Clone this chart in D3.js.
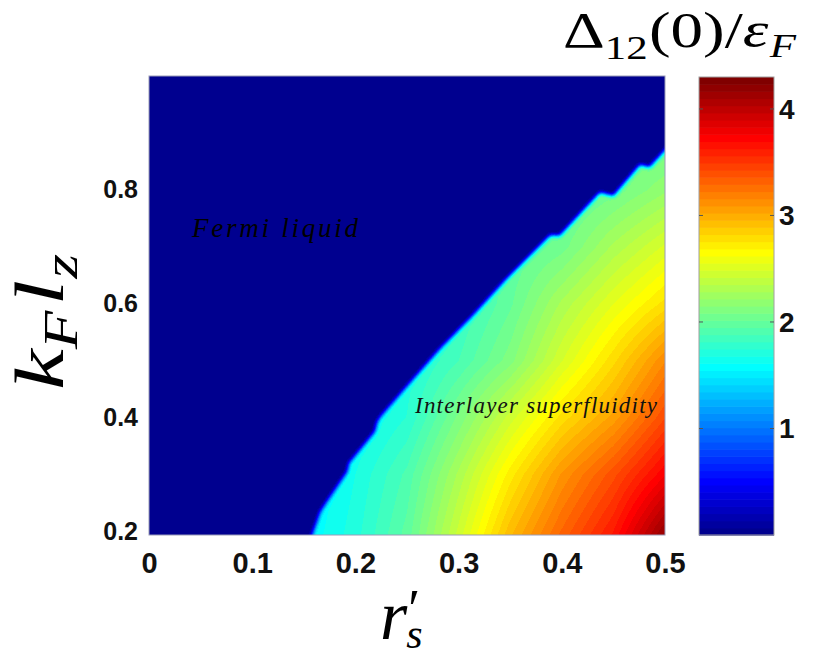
<!DOCTYPE html>
<html><head><meta charset="utf-8">
<script src="https://cdn.jsdelivr.net/npm/d3@7"></script>
<style>body{margin:0;background:#fff} svg{display:block}</style>
</head><body><svg id="chart" width="816" height="660"></svg>
<script>
// ---------------- data ----------------
const xTicks = [0, 0.1, 0.2, 0.3, 0.4, 0.5];
const xTickLabels = ["0", "0.1", "0.2", "0.3", "0.4", "0.5"];
const yTicks = [0.2, 0.4, 0.6, 0.8];
const yTickLabels = ["0.2", "0.4", "0.6", "0.8"];
const cTicks = [1, 2, 3, 4];
const cTickLabels = ["1", "2", "3", "4"];
const xDomain = [0, 0.5];
const yDomain = [0.193, 1.0];
const cDomain = [0, 4.3];

// grid of Δ12(0)/εF (superfluid side)
const gridX = [0.15, 0.2, 0.25, 0.3, 0.35, 0.4, 0.45, 0.5];
const gridY = [0.19, 0.3, 0.4, 0.5, 0.6, 0.7, 0.8, 0.9, 1.0];
const gapRow019 = [1.55, 1.72, 1.98, 2.45, 2.95, 3.32, 3.65, 4.20];
const gapRow030 = [1.50, 1.68, 1.90, 2.30, 2.72, 3.10, 3.40, 3.75];
const gapRow040 = [1.50, 1.60, 1.75, 2.10, 2.45, 2.78, 3.05, 3.42];
const gapRow050 = [1.50, 1.60, 1.70, 1.88, 2.12, 2.48, 2.80, 3.15];
const gapRow060 = [1.50, 1.60, 1.70, 1.80, 2.00, 2.30, 2.55, 2.78];
const gapRow070 = [1.50, 1.60, 1.70, 1.80, 1.95, 2.05, 2.30, 2.50];
const gapRow080 = [1.50, 1.60, 1.70, 1.80, 1.90, 1.95, 2.05, 2.20];
const gapRow090 = [1.50, 1.60, 1.70, 1.80, 1.90, 1.95, 2.00, 2.00];
const gapRow100 = [1.50, 1.60, 1.70, 1.80, 1.90, 1.95, 2.00, 2.00];
const gapValues = [gapRow019, gapRow030, gapRow040, gapRow050, gapRow060, gapRow070, gapRow080, gapRow090, gapRow100];

// phase boundary (Fermi liquid | interlayer superfluid)
const boundaryX = [0.158, 0.166, 0.171, 0.192, 0.194, 0.197, 0.219, 0.221, 0.224, 0.256, 0.282, 0.314, 0.347, 0.389, 0.398, 0.437, 0.450, 0.476, 0.485, 0.500];
const boundaryY = [0.193, 0.234, 0.248, 0.304, 0.320, 0.326, 0.375, 0.391, 0.400, 0.467, 0.520, 0.579, 0.644, 0.720, 0.719, 0.795, 0.789, 0.844, 0.839, 0.869];

// ---------------- layout ----------------
const P = {left: 149, top: 76, right: 665, bottom: 535};
const CB = {left: 699, right: 774, top: 77, bottom: 535};
const svg = d3.select("#chart");
const x = d3.scaleLinear().domain(xDomain).range([P.left, P.right]);
const y = d3.scaleLinear().domain(yDomain).range([P.bottom, P.top]);
const cY = d3.scaleLinear().domain(cDomain).range([CB.bottom, CB.top]);

// MATLAB jet(64)
function jet(m) {
  const n = Math.ceil(m / 4), u = [];
  for (let k = 1; k <= n; k++) u.push(k / n);
  for (let k = 0; k < n - 1; k++) u.push(1);
  for (let k = n; k >= 1; k--) u.push(k / n);
  const g0 = Math.ceil(n / 2) - (m % 4 === 1 ? 1 : 0);
  const f = j => (j >= 1 && j <= u.length) ? u[j - 1] : 0;
  const out = [];
  for (let i = 1; i <= m; i++) out.push(d3.rgb(255 * f(i - g0 - n), 255 * f(i - g0), 255 * f(i - g0 + n)).formatHex());
  return out;
}
const jetColors = jet(64);
const color = d3.scaleQuantize().domain(cDomain).range(jetColors);

// ---------------- heat map ----------------
function gapAt(xv, yv) {
  let i = d3.bisectRight(gridX, xv) - 1; i = Math.max(0, Math.min(gridX.length - 2, i));
  let j = d3.bisectRight(gridY, yv) - 1; j = Math.max(0, Math.min(gridY.length - 2, j));
  let tx = (xv - gridX[i]) / (gridX[i + 1] - gridX[i]); tx = Math.max(0, Math.min(1, tx));
  let ty = (yv - gridY[j]) / (gridY[j + 1] - gridY[j]); ty = Math.max(0, Math.min(1, ty));
  const a = gapValues[j][i], b = gapValues[j][i + 1], c = gapValues[j + 1][i], d = gapValues[j + 1][i + 1];
  return (a * (1 - tx) + b * tx) * (1 - ty) + (c * (1 - tx) + d * tx) * ty;
}
const W = P.right - P.left, H = P.bottom - P.top, pad = 30;
const mc = document.createElement("canvas");
mc.width = W + 2 * pad; mc.height = H + 2 * pad;
const mctx = mc.getContext("2d");
mctx.translate(pad - P.left, pad - P.top);
mctx.filter = "blur(2px)";
const bpts = boundaryX.map((bx, k) => [x(bx), y(boundaryY[k])]);
const last = bpts[bpts.length - 1], first = bpts[0];
const poly = [[first[0] - 0.35 * pad, P.bottom + pad]].concat(bpts, [
  [last[0] + pad, last[1] - pad], [P.right + pad, P.top - pad],
  [P.left - pad, P.top - pad], [P.left - pad, P.bottom + pad]]);
mctx.beginPath();
d3.line().context(mctx)(poly);
mctx.closePath();
mctx.fillStyle = "#fff";
mctx.fill();
const mdata = mctx.getImageData(pad, pad, W, H).data;

const hc = document.createElement("canvas");
hc.width = W; hc.height = H;
const hctx = hc.getContext("2d");
const img = hctx.createImageData(W, H);
for (let j = 0; j < H; j++) {
  const yv = y.invert(P.top + j + 0.5);
  for (let i = 0; i < W; i++) {
    const xv = x.invert(P.left + i + 0.5);
    const k = (j * W + i) * 4;
    const frac = 1 - mdata[k + 3] / 255;
    const v = frac * gapAt(xv, yv);
    const c = d3.rgb(color(v));
    img.data[k] = c.r; img.data[k + 1] = c.g; img.data[k + 2] = c.b; img.data[k + 3] = 255;
  }
}
hctx.putImageData(img, 0, 0);
svg.append("image").attr("x", P.left).attr("y", P.top).attr("width", W).attr("height", H)
  .attr("preserveAspectRatio", "none").attr("href", hc.toDataURL());
svg.append("rect").attr("x", P.left).attr("y", P.top).attr("width", W).attr("height", H)
  .attr("fill", "none").attr("stroke", "#9a9cb8").attr("stroke-width", 1);

// ---------------- axes ----------------
const tickFont = "'Liberation Sans', Arial, Helvetica, sans-serif";
const xAxis = svg.append("g").attr("transform", `translate(0,${P.bottom})`)
  .call(d3.axisBottom(x).tickValues(xTicks).tickFormat((d, i) => xTickLabels[i]).tickSize(0).tickPadding(17));
xAxis.select(".domain").remove();
xAxis.selectAll("text").attr("font-family", tickFont).attr("font-weight", "bold").attr("font-size", 29).attr("fill", "#111");

const yAxis = svg.append("g").attr("transform", `translate(${P.left},0)`)
  .call(d3.axisLeft(y).tickValues(yTicks).tickFormat((d, i) => yTickLabels[i]).tickSize(0).tickPadding(11));
yAxis.select(".domain").remove();
yAxis.selectAll("text").attr("font-family", tickFont).attr("font-weight", "bold").attr("font-size", 25).attr("fill", "#111");

// ---------------- colorbar ----------------
const cb = svg.append("g");
const step = (cDomain[1] - cDomain[0]) / jetColors.length;
cb.selectAll("rect.band").data(jetColors).join("rect").attr("class", "band")
  .attr("x", CB.left).attr("width", CB.right - CB.left)
  .attr("y", (d, i) => cY(cDomain[0] + (i + 1) * step))
  .attr("height", (d, i) => cY(cDomain[0] + i * step) - cY(cDomain[0] + (i + 1) * step) + 0.6)
  .attr("fill", d => d);
cb.append("rect").attr("x", CB.left).attr("y", CB.top).attr("width", CB.right - CB.left).attr("height", CB.bottom - CB.top)
  .attr("fill", "none").attr("stroke", "#a0a0a0").attr("stroke-width", 1);
cb.selectAll("line.tl").data(cTicks).join("line").attr("class", "tl")
  .attr("x1", CB.left).attr("x2", CB.left + 4).attr("y1", d => cY(d)).attr("y2", d => cY(d))
  .attr("stroke", "#555").attr("stroke-width", 1);
cb.selectAll("line.tr").data(cTicks).join("line").attr("class", "tr")
  .attr("x1", CB.right - 4).attr("x2", CB.right).attr("y1", d => cY(d)).attr("y2", d => cY(d))
  .attr("stroke", "#555").attr("stroke-width", 1);
cb.selectAll("text").data(cTicks).join("text")
  .attr("x", CB.right + 5).attr("y", d => cY(d) + 10)
  .attr("font-family", tickFont).attr("font-weight", "bold").attr("font-size", 28).attr("fill", "#111")
  .text((d, i) => cTickLabels[i]);

// ---------------- labels ----------------
const serif = "'Liberation Serif', 'Times New Roman', serif";
// colorbar title Δ12(0)/εF, widened horizontally like Computer Modern
const title = svg.append("text").attr("x", 0).attr("y", 0).attr("font-family", serif).attr("font-size", 50).attr("fill", "#000");
title.append("tspan").text("Δ");
title.append("tspan").attr("font-size", 33).attr("dy", 12).text("12");
title.append("tspan").attr("dy", -12).attr("dx", 1).text("(0)/");
title.append("tspan").attr("font-style", "italic").text("ε");
title.append("tspan").attr("font-style", "italic").attr("font-size", 33).attr("dy", 10).attr("dx", 1).text("F");
{
  const w = title.node().getComputedTextLength();
  title.attr("transform", `translate(563,47) scale(${Math.min(1.3, 248 / w)},1)`);
}

// y label k_F l_z
const yl = svg.append("text").attr("x", 0).attr("y", 0)
  .attr("text-anchor", "middle").attr("font-family", serif).attr("font-size", 70).attr("font-style", "italic").attr("fill", "#000");
yl.append("tspan").text("k");
yl.append("tspan").attr("font-size", 48).attr("dy", 14).text("F");
yl.append("tspan").attr("dy", -14).attr("dx", 4).text("l");
yl.append("tspan").attr("font-size", 48).attr("dy", 14).attr("dx", 1).text("z");
{
  const w = yl.node().getComputedTextLength() + 5;
  yl.attr("transform", `translate(63,322) rotate(-90) scale(${Math.min(1.35, 136 / w)},1)`);
}

// x label r'_s
const xl = svg.append("text").attr("x", 380).attr("y", 639).attr("font-family", serif).attr("fill", "#000");
const rSpan = xl.append("tspan").attr("font-size", 70).attr("font-style", "italic").text("r");
const rw = rSpan.node().getComputedTextLength();
xl.append("tspan").attr("font-size", 54).attr("dx", 1).attr("dy", -12).text("′");
xl.append("tspan").attr("x", 380 + rw - 1).attr("dy", 21).attr("font-size", 42).attr("font-style", "italic").text("s");

// region annotations
svg.append("text").attr("x", 192).attr("y", 237).attr("font-family", serif).attr("font-style", "italic")
  .attr("font-size", 27).attr("fill", "#000").attr("textLength", 166).attr("lengthAdjust", "spacing").text("Fermi liquid");
svg.append("text").attr("x", 415).attr("y", 413).attr("font-family", serif).attr("font-style", "italic")
  .attr("font-size", 23).attr("fill", "#111").attr("textLength", 242).attr("lengthAdjust", "spacing").text("Interlayer superfluidity");
</script></body></html>
